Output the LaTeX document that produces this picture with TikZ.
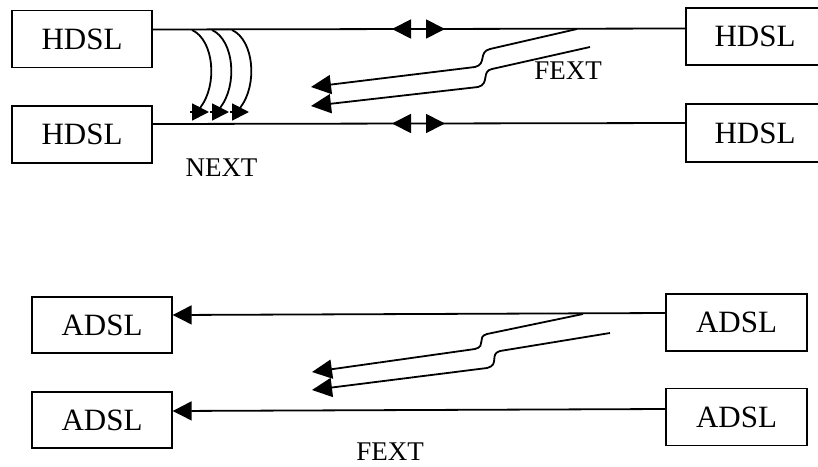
\documentclass[tikz,border=0pt]{standalone}
\usepackage{fontspec}
\setmainfont{Liberation Serif}
\usetikzlibrary{arrows.meta}
\begin{document}
\begin{tikzpicture}[x=1pt,y=-1pt,
  dslbox/.style={draw,line width=1.4pt,minimum width=140pt,minimum height=57pt,inner sep=0pt,font=\fontsize{31}{36}\selectfont},
  lbl/.style={inner sep=0pt,font=\fontsize{27}{32}\selectfont},
  wire/.style={line width=1.8pt},
  tipa/.style={-{Triangle[length=19pt,width=19pt]}},
  tipn/.style={-{Triangle[length=17pt,width=17pt]}},
  tipf/.style={-{Triangle[length=20pt,width=19pt]}}
]
\useasboundingbox (0,0) rectangle (818,466);
\clip (0,0) rectangle (818,466);
% boxes
\node[dslbox] (hl1) at (82,39) {HDSL};
\node[dslbox] (hl2) at (82,134.5) {HDSL};
\node[dslbox,minimum width=138pt] (hr1) at (755,36.5) {HDSL};
\node[dslbox,minimum width=138pt,minimum height=58pt] (hr2) at (755,133) {HDSL};
\node[dslbox,minimum height=56pt] (al1) at (102,325) {ADSL};
\node[dslbox,minimum height=56pt] (al2) at (102,420) {ADSL};
\node[dslbox,minimum width=141pt] (ar1) at (736.5,322.5) {ADSL};
\node[dslbox,minimum width=141pt] (ar2) at (736.5,417) {ADSL};
% wires
\draw[wire] (hl1.east |- 0,29.5) -- (hr1.west |- 0,28.5);
\draw[wire] (hl2.east |- 0,124) -- (hr2.west |- 0,123);
\draw[wire,tipa] (ar1.west |- 0,313) -- (al1.east |- 0,315);
\draw[wire,tipa] (ar2.west |- 0,409) -- (al2.east |- 0,411);
% double arrows
\coordinate (d1) at (419,29);
\coordinate (d2) at (419,123.5);
\draw[wire,tipa] (d1) -- ++(-27,0);
\draw[wire,tipa] (d1) -- ++(26,0);
\draw[wire,tipa] (d2) -- ++(-27,0);
\draw[wire,tipa] (d2) -- ++(26,0);
% NEXT curves
\coordinate (n1) at (192,30);
\coordinate (n2) at (212,30);
\coordinate (n3) at (232,30);
\draw[wire] (n1) .. controls (214,40) and (218,85) .. (200,108);
\draw[wire] (n2) .. controls (234,40) and (238,85) .. (220,108);
\draw[wire] (n3) .. controls (254,40) and (258,85) .. (240,108);
\draw[wire,tipn] (190,112) -- (209,112);
\draw[wire,tipn] (210,112) -- (229,112);
\draw[wire,tipn] (230,112) -- (249,112);
% FEXT top
\coordinate (f1) at (577,29);
\coordinate (f2) at (590,47);
\draw[wire,tipf] (f1) -- (490,49) .. controls (478,52) and (487,64) .. (475,67) -- (311,87);
\draw[wire,tipf] (f2) -- (492,69) .. controls (481,71) and (490,84) .. (478,87) -- (311,106);
% FEXT bottom
\coordinate (g1) at (583,314);
\coordinate (g2) at (610,333);
\draw[wire,tipf] (g1) -- (487,334) .. controls (476,337) and (487,346) .. (475,349) -- (312,372);
\draw[wire,tipf] (g2) -- (500,351) .. controls (489,354) and (500,365) .. (487,368) -- (312,390);
% labels
\node[lbl] (next) at (221.5,167.5) {NEXT};
\node[lbl] (fext1) at (568,71) {FEXT};
\node[lbl] (fext2) at (390,452) {FEXT};
\end{tikzpicture}
\end{document}
